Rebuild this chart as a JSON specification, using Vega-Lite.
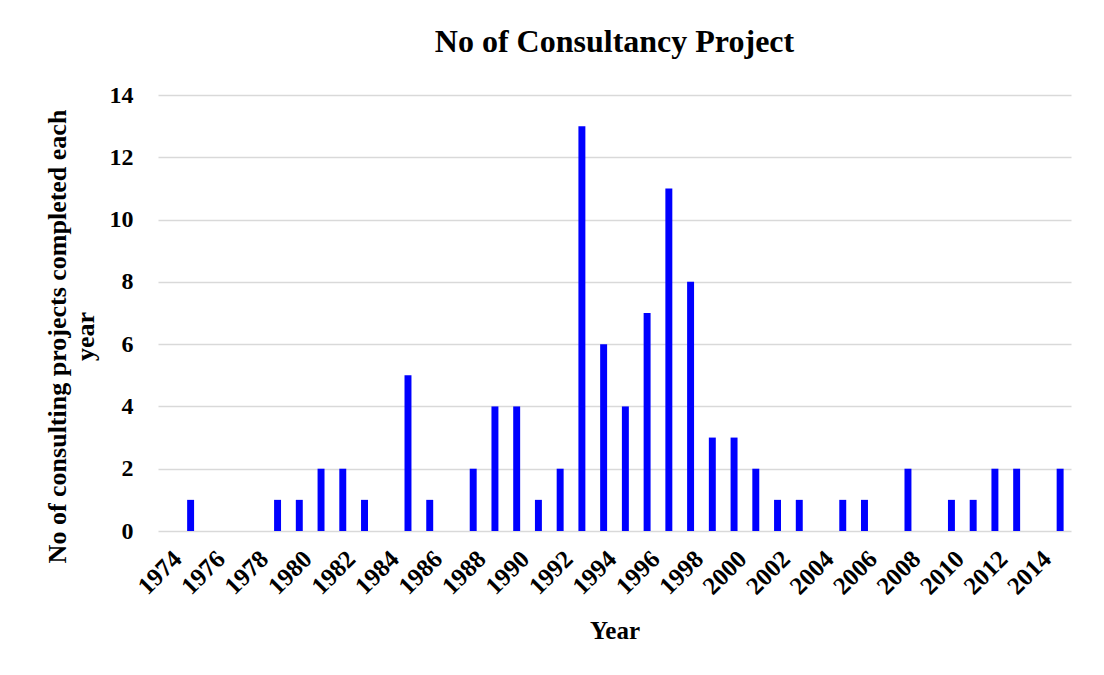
{
  "$schema": "https://vega.github.io/schema/vega-lite/v6.json",
  "autosize": {"type": "none"},
  "padding": {"left": 158, "top": 95, "right": 33, "bottom": 144},
  "width": 913,
  "height": 436,
  "background": "white",
  "title": {
    "text": "No of Consultancy Project",
    "font": "Liberation Serif",
    "fontSize": 32,
    "fontWeight": "bold",
    "color": "#000000",
    "anchor": "middle",
    "offset": 24
  },
  "data": {
    "values": [
      {"Year": 1974, "Projects": 0},
      {"Year": 1975, "Projects": 1},
      {"Year": 1976, "Projects": 0},
      {"Year": 1977, "Projects": 0},
      {"Year": 1978, "Projects": 0},
      {"Year": 1979, "Projects": 1},
      {"Year": 1980, "Projects": 1},
      {"Year": 1981, "Projects": 2},
      {"Year": 1982, "Projects": 2},
      {"Year": 1983, "Projects": 1},
      {"Year": 1984, "Projects": 0},
      {"Year": 1985, "Projects": 5},
      {"Year": 1986, "Projects": 1},
      {"Year": 1987, "Projects": 0},
      {"Year": 1988, "Projects": 2},
      {"Year": 1989, "Projects": 4},
      {"Year": 1990, "Projects": 4},
      {"Year": 1991, "Projects": 1},
      {"Year": 1992, "Projects": 2},
      {"Year": 1993, "Projects": 13},
      {"Year": 1994, "Projects": 6},
      {"Year": 1995, "Projects": 4},
      {"Year": 1996, "Projects": 7},
      {"Year": 1997, "Projects": 11},
      {"Year": 1998, "Projects": 8},
      {"Year": 1999, "Projects": 3},
      {"Year": 2000, "Projects": 3},
      {"Year": 2001, "Projects": 2},
      {"Year": 2002, "Projects": 1},
      {"Year": 2003, "Projects": 1},
      {"Year": 2004, "Projects": 0},
      {"Year": 2005, "Projects": 1},
      {"Year": 2006, "Projects": 1},
      {"Year": 2007, "Projects": 0},
      {"Year": 2008, "Projects": 2},
      {"Year": 2009, "Projects": 0},
      {"Year": 2010, "Projects": 1},
      {"Year": 2011, "Projects": 1},
      {"Year": 2012, "Projects": 2},
      {"Year": 2013, "Projects": 2},
      {"Year": 2014, "Projects": 0},
      {"Year": 2015, "Projects": 2}
    ]
  },
  "mark": {"type": "bar", "color": "#0000ff", "width": {"band": 0.32}},
  "encoding": {
    "x": {
      "field": "Year",
      "type": "ordinal",
      "scale": {"paddingInner": 0, "paddingOuter": 0},
      "axis": {
        "title": "Year",
        "values": [1974, 1976, 1978, 1980, 1982, 1984, 1986, 1988, 1990, 1992, 1994, 1996, 1998, 2000, 2002, 2004, 2006, 2008, 2010, 2012, 2014],
        "labelAngle": -45,
        "labelAlign": "right",
        "labelBaseline": "top",
        "labelPadding": 15,
        "labelFont": "Liberation Serif",
        "labelFontSize": 25,
        "labelFontWeight": "bold",
        "labelColor": "#000000",
        "domain": false,
        "ticks": false,
        "grid": false,
        "titleFont": "Liberation Serif",
        "titleFontSize": 25,
        "titleFontWeight": "bold",
        "titleColor": "#000000",
        "titleBaseline": "middle",
        "titleY": 99
      }
    },
    "y": {
      "field": "Projects",
      "type": "quantitative",
      "scale": {"domain": [0, 14]},
      "axis": {
        "title": ["No of consulting projects completed each", "year"],
        "values": [0, 2, 4, 6, 8, 10, 12, 14],
        "labelFont": "Liberation Serif",
        "labelFontSize": 24,
        "labelFontWeight": "bold",
        "labelColor": "#000000",
        "labelPadding": 25,
        "domain": false,
        "ticks": false,
        "grid": true,
        "gridColor": "#d9d9d9",
        "gridWidth": 1.5,
        "titleFont": "Liberation Serif",
        "titleFontSize": 26,
        "titleFontWeight": "bold",
        "titleColor": "#000000",
        "titleAngle": -90,
        "titleAlign": "center",
        "titleBaseline": "middle",
        "titleLineHeight": 28,
        "titleX": -101,
        "titleY": 241
      }
    }
  },
  "config": {"view": {"stroke": null}}
}
